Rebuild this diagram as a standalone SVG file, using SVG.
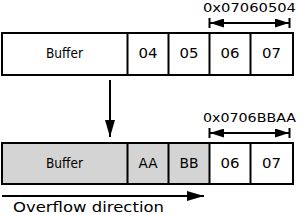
<svg xmlns="http://www.w3.org/2000/svg" width="298" height="215" viewBox="0 0 298 215">
<style>
.box{fill:#fff;stroke:#000;stroke-width:2}
.gray{fill:#d4d4d4}
.div{stroke:#000;stroke-width:2}
.lbl{font-family:"DejaVu Sans",sans-serif;font-size:13.5px;text-anchor:middle;fill:#000}
.hex{font-family:"DejaVu Sans",sans-serif;font-size:12px;text-anchor:end;fill:#000}
.big{font-family:"DejaVu Sans",sans-serif;font-size:14.5px;fill:#000}
.ln{stroke:#000;stroke-width:2;fill:none}
</style>
<defs>
<marker id="ah" markerUnits="userSpaceOnUse" markerWidth="14" markerHeight="9" refX="14" refY="4.5" orient="auto-start-reverse"><path d="M0,0 L14,4.5 L0,9 z" fill="#000"/></marker>
<marker id="ab" markerUnits="userSpaceOnUse" markerWidth="17" markerHeight="10" refX="17" refY="5" orient="auto"><path d="M0,0 L17,5 L0,10 z" fill="#000"/></marker>
</defs>
<g id="top-row">
<rect class="box" x="2" y="33" width="291" height="42"/>
<line class="div" x1="127.5" y1="33" x2="127.5" y2="75"/>
<line class="div" x1="168.5" y1="33" x2="168.5" y2="75"/>
<line class="div" x1="209.5" y1="33" x2="209.5" y2="75"/>
<line class="div" x1="250.5" y1="33" x2="250.5" y2="75"/>
<text class="lbl" x="64.5" y="58" textLength="37" lengthAdjust="spacingAndGlyphs">Buffer</text>
<text class="lbl" x="148" y="58" textLength="19" lengthAdjust="spacingAndGlyphs">04</text>
<text class="lbl" x="189" y="58" textLength="19" lengthAdjust="spacingAndGlyphs">05</text>
<text class="lbl" x="230" y="58" textLength="19" lengthAdjust="spacingAndGlyphs">06</text>
<text class="lbl" x="271.5" y="58" textLength="19" lengthAdjust="spacingAndGlyphs">07</text>
</g>
<g id="top-label">
<text class="hex" x="296" y="12" textLength="93" lengthAdjust="spacingAndGlyphs">0x07060504</text>
<line class="ln" x1="209.5" y1="18" x2="209.5" y2="28"/>
<line class="ln" x1="289.5" y1="18" x2="289.5" y2="28"/>
</g>
<g id="bottom-row">
<rect class="box" x="2" y="143" width="291" height="41"/>
<rect class="gray" x="3" y="144" width="206.5" height="39"/>
<line class="div" x1="127.5" y1="143" x2="127.5" y2="184"/>
<line class="div" x1="168.5" y1="143" x2="168.5" y2="184"/>
<line class="div" x1="209.5" y1="143" x2="209.5" y2="184"/>
<line class="div" x1="250.5" y1="143" x2="250.5" y2="184"/>
<text class="lbl" x="64.5" y="167.5" textLength="37" lengthAdjust="spacingAndGlyphs">Buffer</text>
<text class="lbl" x="148" y="167.5" textLength="19" lengthAdjust="spacingAndGlyphs">AA</text>
<text class="lbl" x="189" y="167.5" textLength="19" lengthAdjust="spacingAndGlyphs">BB</text>
<text class="lbl" x="230" y="167.5" textLength="19" lengthAdjust="spacingAndGlyphs">06</text>
<text class="lbl" x="271.5" y="167.5" textLength="19" lengthAdjust="spacingAndGlyphs">07</text>
</g>
<g id="bottom-label">
<text class="hex" x="296" y="122" textLength="93" lengthAdjust="spacingAndGlyphs">0x0706BBAA</text>
<line class="ln" x1="209.5" y1="128" x2="209.5" y2="138"/>
<line class="ln" x1="289.5" y1="128" x2="289.5" y2="138"/>
</g>
<g id="overflow-label">
<text class="big" x="13" y="211.5" textLength="151" lengthAdjust="spacingAndGlyphs">Overflow direction</text>
</g>
<g id="connectors">
<line class="ln" x1="210" y1="23" x2="289" y2="23" marker-start="url(#ah)" marker-end="url(#ah)"/>
<line class="ln" x1="210" y1="133" x2="289" y2="133" marker-start="url(#ah)" marker-end="url(#ah)"/>
<line class="ln" x1="110" y1="80" x2="110" y2="137" marker-end="url(#ab)"/>
<line class="ln" x1="2" y1="196" x2="204" y2="196" marker-end="url(#ab)"/>
</g>
</svg>
